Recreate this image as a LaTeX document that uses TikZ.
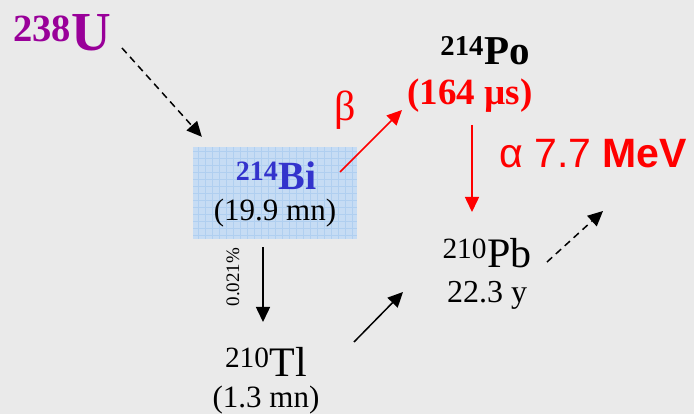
\documentclass[tikz,border=0pt]{standalone}
\usepackage{fontspec}
\setmainfont{Liberation Serif}
\newfontfamily\arialfont{Liberation Sans}
\usetikzlibrary{arrows.meta,calc,positioning}
\definecolor{bgGray}{HTML}{EAEAEA}
\definecolor{uPurple}{HTML}{990099}
\definecolor{biBlue}{HTML}{3333CC}
\definecolor{boxBlue}{HTML}{C6DCF4}
\definecolor{gridBlue}{HTML}{B0CFF0}
\newcommand{\fsz}[1]{\fontsize{#1}{#1}\selectfont}
\newcommand{\nuc}[2]{\textsuperscript{#1}#2}

\begin{document}
\begin{tikzpicture}[x=1pt,y=-1pt,
    lbl/.style={anchor=base,inner sep=0pt},
    decay/.style={-{Triangle[length=15pt,width=14pt]},line width=1.5pt},
    chain/.style={decay,dash pattern=on 7pt off 5pt},
    bibox/.style={minimum width=164pt,minimum height=92pt,inner sep=0pt,fill=boxBlue,
        path picture={\draw[gridBlue,line width=0.5pt,step=7pt]
            (path picture bounding box.south west) grid (path picture bounding box.north east);}}]
  % Background
  \fill[bgGray] (0,0) rectangle (694,414);
  \useasboundingbox (0,0) rectangle (694,414);

  % Isotopes
  \node[bibox] (box) at (275,193) {};
  \node[lbl,text=uPurple,font=\bfseries\fsz{55}] (U) at (62,51) {\nuc{238}{U}};
  \node[lbl,text=biBlue,font=\bfseries\fsz{40}] (Bi) at (276,190) {\nuc{214}{Bi}};
  \node[lbl,font=\fsz{31}] (BiT) at (275,221) {(19.9 mn)};
  \node[lbl,font=\bfseries\fsz{41}] (Po) at (485,65) {\nuc{214}{Po}};
  \node[lbl,text=red,font=\bfseries\fsz{37}] (PoT) at (470,105) {(164 µs)};
  \node[lbl,font=\fsz{42}] (Pb) at (487,268) {\nuc{210}{Pb}};
  \node[lbl,font=\fsz{32}] (PbT) at (487,302) {22.3 y};
  \node[lbl,font=\fsz{42}] (Tl) at (266,377) {\nuc{210}{Tl}};
  \node[lbl,font=\fsz{31}] (TlT) at (266,407) {(1.3 mn)};

  % Decay labels
  \node[lbl,text=red,font=\fsz{42}] (beta) at (345,121) {β};
  \node[lbl,anchor=base west,text=red,font=\arialfont\fsz{41}] (alpha) at (499,168) {α 7.7 \textbf{MeV}};
  \node[lbl,anchor=center,rotate=90,font=\fsz{19}] (br) at (233,277) {0.021\%};

  % Decay arrows
  \coordinate (next) at (603,211);
  \draw[chain] ($(U.base)+(60,-3)$) -- ($(box.north west)+(9,-10)$);
  \draw[decay,red] ($(Bi.base)+(64,-18)$) -- ($(PoT.base)+(-68,5)$);
  \draw[decay,red] ($(PoT.base)+(2,20)$) -- ($(Pb.base)+(-15,-56)$);
  \draw[decay] ($(box.south)+(-12,8)$) -- ($(Tl.base)+(-3,-55)$);
  \draw[decay] ($(Tl.base)+(88,-35)$) -- ($(Pb.base)+(-84,24)$);
  \draw[chain] ($(Pb.base)+(60,-6)$) -- (next);
\end{tikzpicture}
\end{document}
